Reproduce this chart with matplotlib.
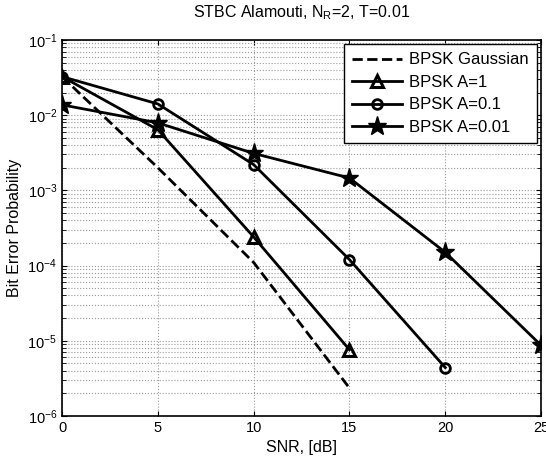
import numpy as np
import matplotlib
matplotlib.use('Agg')
import matplotlib.pyplot as plt

plt.rcParams['font.family'] = ['Liberation Sans', 'DejaVu Sans']
plt.rcParams['mathtext.fontset'] = 'custom'
plt.rcParams['mathtext.rm'] = 'Liberation Sans'

# Дані
snr_gauss = [0, 5, 10, 15]
ber_gauss = [3.25e-2, 2.0e-3, 1.1e-4, 2.35e-6]

snr_a1 = [0, 5, 10, 15]
ber_a1 = [3.25e-2, 6.4e-3, 2.4e-4, 7.6e-6]

snr_a01 = [0, 5, 10, 15, 20]
ber_a01 = [3.25e-2, 1.41e-2, 2.2e-3, 1.2e-4, 4.4e-6]

snr_a001 = [0, 5, 10, 15, 20, 25]
ber_a001 = [1.37e-2, 7.9e-3, 3.1e-3, 1.46e-3, 1.5e-4, 8.7e-6]

labels = ['BPSK Gaussian', 'BPSK A=1', 'BPSK A=0.1', 'BPSK A=0.01']
x_ticks = [0, 5, 10, 15, 20, 25]

fig = plt.figure(figsize=(5.46, 4.59), dpi=100)
ax = fig.add_axes([0.1136, 0.0937, 0.8774, 0.8193])

lw = 2.0
ax.semilogy(snr_gauss, ber_gauss, 'k--', lw=lw, label=labels[0])
ax.semilogy(snr_a1, ber_a1, 'k-^', lw=lw, ms=9, mfc='none', mew=2.2, label=labels[1])
ax.semilogy(snr_a01, ber_a01, 'k-o', lw=lw, ms=7, mfc='none', mew=2, label=labels[2])
ax.semilogy(snr_a001, ber_a001, 'k-*', lw=lw, ms=14, label=labels[3])

ax.set_xlim(0, 25)
ax.set_ylim(1e-6, 1e-1)
ax.set_xticks(x_ticks)
ax.set_xticklabels([str(t) for t in x_ticks])

ax.grid(True, which='major', color='#999999', linestyle=':', linewidth=0.8)
ax.grid(True, which='minor', axis='y', color='#999999', linestyle=':', linewidth=0.8)
ax.tick_params(which='both', direction='in', top=True, right=True, labelsize=10.5)
ax.tick_params(which='minor', length=3)
for s in ax.spines.values():
    s.set_linewidth(1.2)

ax.set_xlabel('SNR, [dB]', fontsize=11.5)
ax.set_ylabel('Bit Error Probability', fontsize=11.5)
ax.set_title(r'STBC Alamouti, N$_\mathregular{R}$=2, T=0.01', fontsize=11.5, pad=16)

leg = ax.legend(loc='upper right', fontsize=12, fancybox=False, edgecolor='black',
                framealpha=1, borderaxespad=0.25, handlelength=3.0, labelspacing=0.45,
                borderpad=0.5, handletextpad=0.4)
leg.get_frame().set_linewidth(1.0)

plt.savefig('out.png', dpi=100)
